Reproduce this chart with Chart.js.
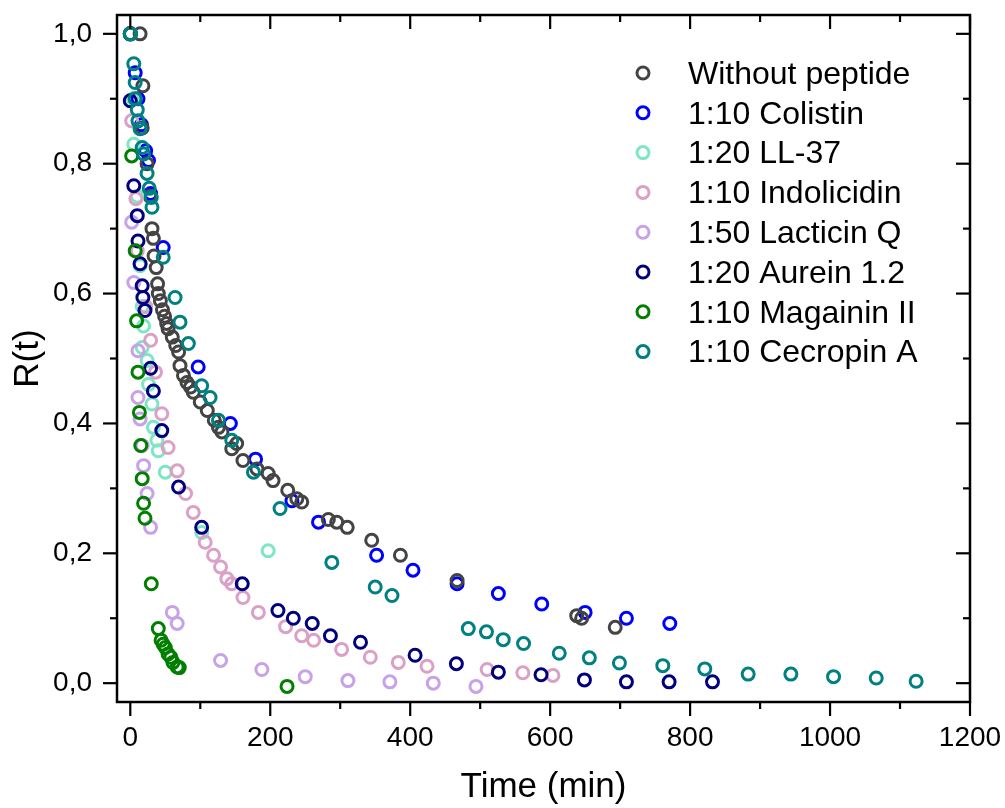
<!DOCTYPE html>
<html>
<head>
<meta charset="utf-8">
<script src="https://cdn.jsdelivr.net/npm/chart.js@4/dist/chart.umd.min.js"></script>
<style>
html,body{margin:0;padding:0;background:#fff;}
#wrap{width:1005px;height:808px;position:relative;}
</style>
</head>
<body>
<div id="wrap"><canvas id="c" width="1005" height="808"></canvas></div>
<script>
// ---- data (time in min, R(t)) ----
const seriesNames = ["Without peptide","1:10 Colistin","1:20 LL-37","1:10 Indolicidin","1:50 Lacticin Q","1:20 Aurein 1.2","1:10 Magainin II","1:10 Cecropin A"];
const seriesColors = ["#444444","#0000ff","#7ee6c4","#dba0c6","#c7a2e8","#00007f","#007f00","#008080"];

const noPeptideT = [14,18,17,24,28,31,33,34,37,39,40,43,46,49,52,54,60,65,69,71,76,81,86,90,100,110,120,126,131,145,152,161,181,197,204,225,238,245,283,295,310,345,386,467,638,645,693];
const noPeptideR = [1.0,0.92,0.855,0.80,0.75,0.70,0.685,0.658,0.64,0.615,0.60,0.589,0.575,0.565,0.554,0.546,0.533,0.52,0.51,0.489,0.474,0.463,0.456,0.448,0.433,0.42,0.405,0.394,0.387,0.361,0.369,0.343,0.33,0.323,0.312,0.297,0.284,0.279,0.252,0.248,0.24,0.22,0.197,0.158,0.104,0.10,0.086];

const colistinT = [0,7,11,16,22,26,29,47,97,143,179,231,269,352,404,467,526,588,650,709,771];
const colistinR = [1.0,0.94,0.90,0.86,0.82,0.805,0.754,0.671,0.487,0.40,0.345,0.281,0.248,0.197,0.174,0.153,0.138,0.122,0.109,0.10,0.092];

const ll37T = [0,4,5,10,14,17,19,17,24,26,31,33,38,40,50,102,197];
const ll37R = [1.0,0.90,0.83,0.75,0.643,0.58,0.55,0.517,0.497,0.46,0.43,0.394,0.374,0.358,0.325,0.232,0.204];

const indolicidinT = [0,2,8,10,22,29,36,45,54,67,79,90,107,119,129,138,145,161,183,222,245,262,302,343,383,424,510,561,604];
const indolicidinR = [1.0,0.866,0.746,0.666,0.58,0.528,0.479,0.415,0.363,0.327,0.292,0.263,0.217,0.197,0.179,0.161,0.153,0.132,0.109,0.087,0.073,0.066,0.052,0.04,0.032,0.026,0.021,0.016,0.012];

const lacticinT = [0,2,5,11,11,14,17,19,24,29,60,67,129,188,250,311,371,433,494];
const lacticinR = [1.0,0.71,0.617,0.512,0.44,0.407,0.366,0.335,0.292,0.24,0.109,0.092,0.035,0.021,0.01,0.004,0.002,0.0,-0.005];

const aureinT = [0,0,5,10,11,14,17,18,21,29,33,45,69,102,160,211,233,260,286,329,407,466,526,587,649,709,770,832];
const aureinR = [1.0,0.897,0.766,0.72,0.681,0.646,0.612,0.594,0.574,0.485,0.45,0.389,0.302,0.24,0.153,0.112,0.10,0.092,0.073,0.063,0.043,0.03,0.017,0.013,0.005,0.002,0.002,0.002];

const magaininT = [0,2,7,9,11,13,15,17,19,21,30,40,44,47,50,54,58,61,67,70,224];
const magaininR = [1.0,0.812,0.666,0.558,0.479,0.417,0.366,0.315,0.277,0.254,0.153,0.084,0.066,0.06,0.055,0.045,0.04,0.032,0.025,0.024,-0.005];

const cecropinT = [0,5,7,7,10,11,14,17,19,24,27,30,31,47,64,71,83,102,114,126,145,176,214,288,350,374,483,509,533,562,613,656,699,761,821,883,944,1005,1066,1123];
const cecropinR = [1.0,0.954,0.925,0.90,0.883,0.866,0.854,0.825,0.815,0.785,0.762,0.748,0.733,0.656,0.594,0.556,0.523,0.458,0.44,0.405,0.374,0.325,0.269,0.186,0.148,0.135,0.084,0.079,0.067,0.061,0.046,0.039,0.031,0.027,0.022,0.014,0.014,0.01,0.008,0.003];

// axis ticks
const xMajorTicks = [0,200,400,600,800,1000,1200];
const xMinorTicks = [100,300,500,700,900,1100];
const yMajorTicks = [0,0.2,0.4,0.6,0.8,1.0];
const yMinorTicks = [0.1,0.3,0.5,0.7,0.9];

const seriesT = [noPeptideT,colistinT,ll37T,indolicidinT,lacticinT,aureinT,magaininT,cecropinT];
const seriesR = [noPeptideR,colistinR,ll37R,indolicidinR,lacticinR,aureinR,magaininR,cecropinR];
// drawing order (lower = on top)
const drawOrder = [6,7,5,4,3,2,1,0];

const datasets = seriesNames.map((name,i)=>({
  label: name,
  data: seriesT[i].map((t,j)=>({x:t, y:seriesR[i][j]})),
  borderColor: seriesColors[i],
  backgroundColor: 'rgba(0,0,0,0)',
  pointRadius: 6,
  pointHoverRadius: 6,
  pointBorderWidth: 3,
  pointStyle: 'circle',
  order: drawOrder[i],
  showLine: false
}));

const FONT = "'Liberation Sans', Arial, sans-serif";

const framePlugin = {
  id: 'frame',
  afterDatasetsDraw(chart){
    const {ctx, chartArea:{left,right,top,bottom}, scales:{x,y}} = chart;
    ctx.save();
    ctx.strokeStyle = '#000';
    ctx.lineWidth = 2.5;
    ctx.strokeRect(left, top, right-left, bottom-top);
    ctx.lineWidth = 2.2;
    const seg = (x1,y1,x2,y2)=>{ctx.beginPath();ctx.moveTo(x1,y1);ctx.lineTo(x2,y2);ctx.stroke();};
    const xt = (v,len)=>{const p=x.getPixelForValue(v); seg(p,bottom,p,bottom+len); seg(p,top,p,top+len);};
    const yt = (v,len)=>{const p=y.getPixelForValue(v); seg(left-len,p,left,p); seg(right-len,p,right,p);};
    xMajorTicks.forEach(v=>xt(v,14)); xMinorTicks.forEach(v=>xt(v,7));
    yMajorTicks.forEach(v=>yt(v,14)); yMinorTicks.forEach(v=>yt(v,7));
    ctx.restore();
  }
};

const legendPlugin = {
  id: 'insideLegend',
  afterDraw(chart){
    const ctx = chart.ctx;
    const fs = 32;
    ctx.save();
    ctx.font = fs + "px " + FONT;
    ctx.textAlign = 'left';
    ctx.textBaseline = 'alphabetic';
    chart.data.datasets.forEach((ds,i)=>{
      const cy = 73 + i*39.8;
      ctx.beginPath();
      ctx.arc(643, cy, 6, 0, Math.PI*2);
      ctx.lineWidth = 3;
      ctx.strokeStyle = ds.borderColor;
      ctx.stroke();
      ctx.fillStyle = '#000';
      ctx.fillText(ds.label, 688, cy + 0.34*fs);
    });
    ctx.restore();
  }
};

new Chart(document.getElementById('c'), {
  type: 'scatter',
  data: {datasets},
  options: {
    responsive: false,
    animation: false,
    events: [],
    layout: {padding: {top: 15, right: 35, left: 0, bottom: 0}},
    plugins: {legend: {display: false}, tooltip: {enabled: false}},
    scales: {
      x: {
        type: 'linear', position: 'bottom', min: -19, max: 1200,
        afterBuildTicks: s => { s.ticks = xMajorTicks.map(v=>({value:v})); },
        afterFit: s => { s.height = 106; s.paddingLeft = 0; s.paddingRight = 0; },
        grid: {display: false, drawTicks: false},
        border: {display: false},
        ticks: {color: '#000', font: {family: FONT, size: 28}, padding: 19, maxRotation: 0, autoSkip: false,
          callback: v => String(v)},
        title: {display: true, text: 'Time (min)', color: '#000', font: {family: FONT, size: 35}, padding: {top: 0, bottom: 0}}
      },
      y: {
        type: 'linear', position: 'left', min: -0.029, max: 1.029,
        afterBuildTicks: s => { s.ticks = yMajorTicks.map(v=>({value:v})); },
        afterFit: s => { s.width = 117; s.paddingTop = 0; s.paddingBottom = 0; },
        grid: {display: false, drawTicks: false},
        border: {display: false},
        ticks: {color: '#000', font: {family: FONT, size: 28}, padding: 25, autoSkip: false,
          callback: v => v.toFixed(1).replace('.', ',')},
        title: {display: true, text: 'R(t)', color: '#000', font: {family: FONT, size: 35}, padding: {top: 7, bottom: 0}}
      }
    }
  },
  plugins: [framePlugin, legendPlugin]
});
</script>
</body>
</html>
